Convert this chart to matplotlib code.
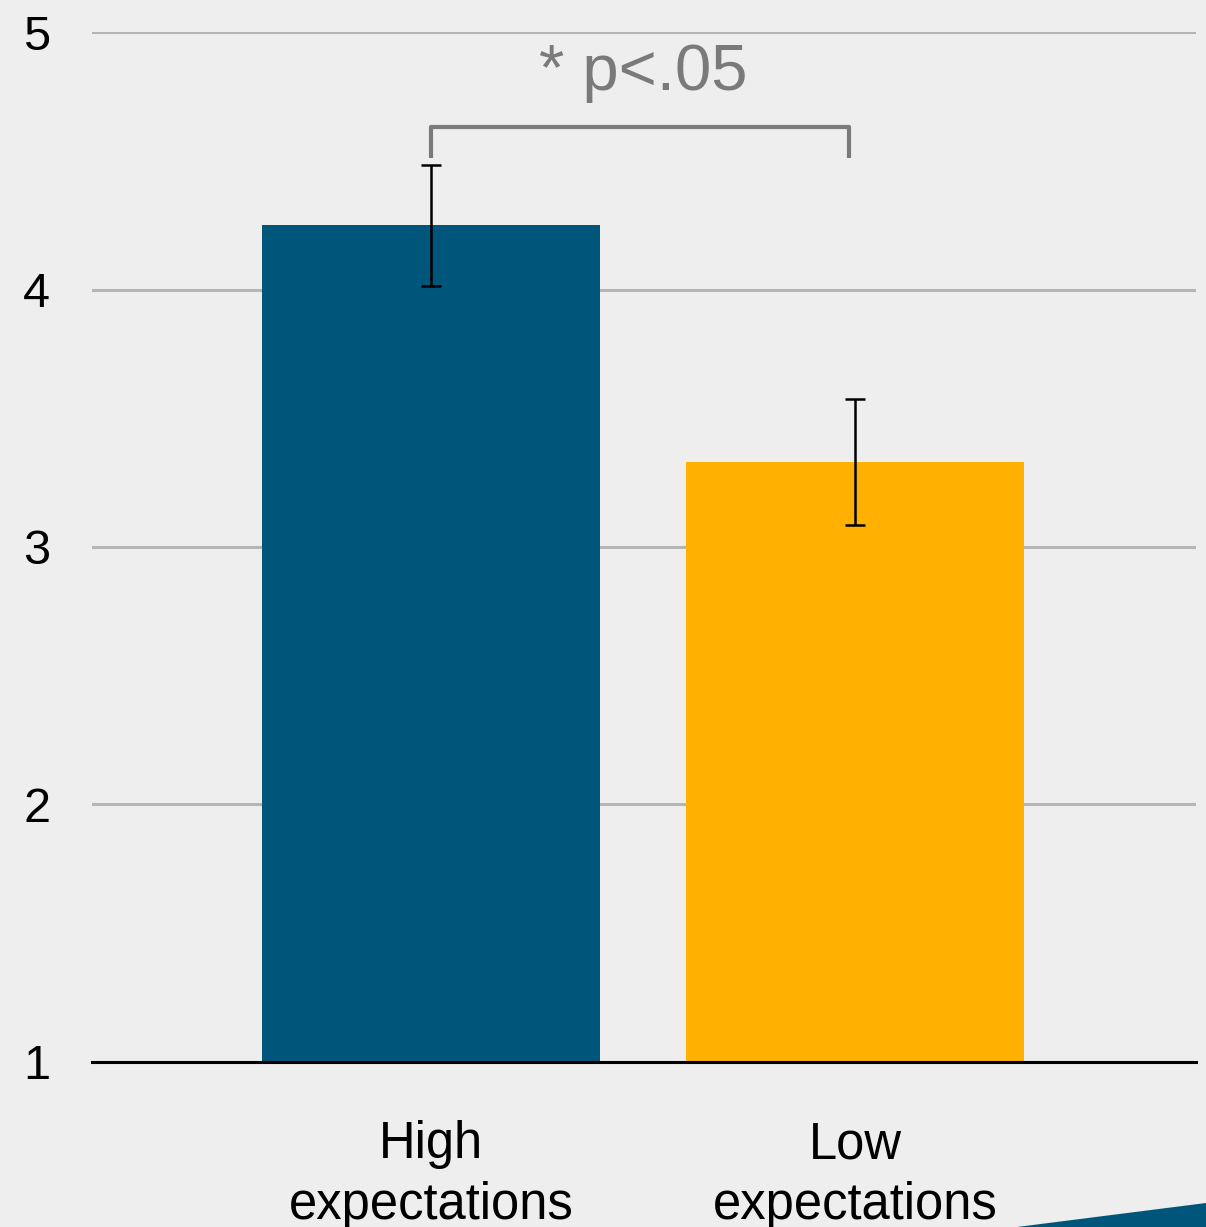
import matplotlib.pyplot as plt
from matplotlib.patches import Polygon

plt.rcParams['font.family'] = ['Liberation Sans', 'DejaVu Sans']

groups = ["High\nexpectations", "Low\nexpectations"]
means = [4.25, 3.33]
errors = [0.235, 0.245]
colors = ["#00567a", "#ffb000"]
y_ticks = [1, 2, 3, 4, 5]
sig_label = "* p<.05"

fig = plt.figure(figsize=(12.06, 12.27), dpi=100)
fig.patch.set_facecolor("#eeeeee")
ax = fig.add_axes([0.0763, 0.1345, 0.9154, 0.8394])
ax.set_facecolor("none")

x = [0, 1]
ax.bar(x, [m - 1 for m in means], bottom=1, width=0.797, color=colors, zorder=3)
ax.errorbar(x, means, yerr=errors, fmt="none", ecolor="black",
            elinewidth=1.8, capsize=7, capthick=1.8, zorder=4)

# significance bracket
ax.plot([0.0, 0.0, 0.985, 0.985], [4.51, 4.63, 4.63, 4.51],
        color="#7a7a7a", lw=3, solid_capstyle="butt", zorder=4)
ax.text(0.5, 4.84, sig_label, ha="center", va="center",
        fontsize=47, color="#7a7a7a")

ax.set_xlim(-0.80, 1.804)
ax.set_ylim(1, 5)
ax.set_yticks(y_ticks)
ax.set_xticks(x)
ax.set_xticklabels(groups, fontsize=36.5, linespacing=1.3)
ax.tick_params(axis="y", labelsize=35, length=0, pad=30)
ax.tick_params(axis="x", length=0, pad=42)
ax.yaxis.grid(True, color="#b5b5b5", lw=2.2, zorder=0)
ax.set_axisbelow(True)
for s in ["top", "right", "left"]:
    ax.spines[s].set_visible(False)
ax.spines["bottom"].set_linewidth(2.2)
ax.spines["bottom"].set_zorder(5)

# decorative stripe bottom right
fig.patches.append(Polygon([[0.843, 0.0], [1.0, 0.0], [1.0, 0.0196]],
                           closed=True, transform=fig.transFigure,
                           facecolor="#00567a", edgecolor="none"))

fig.savefig("out.png", dpi=100, facecolor=fig.get_facecolor())
